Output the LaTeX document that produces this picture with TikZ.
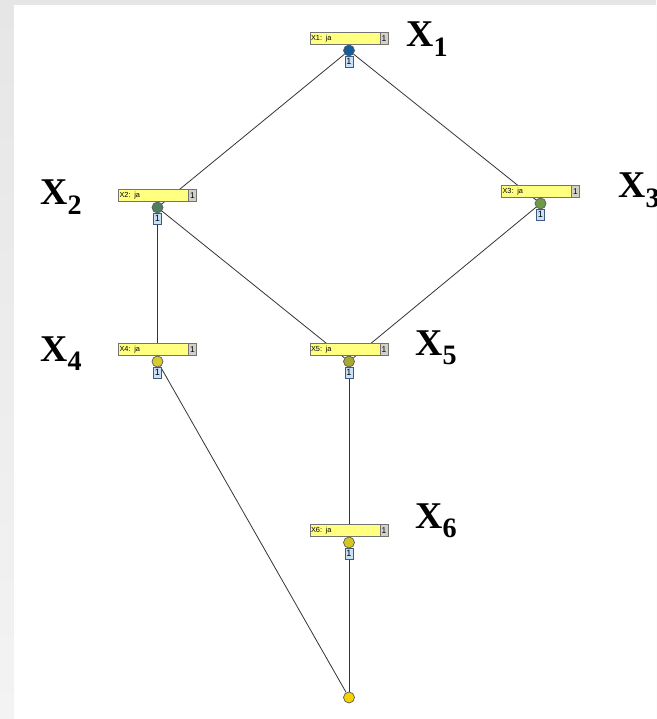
\documentclass[tikz,border=0pt]{standalone}
\usepackage{fontspec}
\setsansfont{Liberation Sans}
\newfontfamily\labelfont{Liberation Serif}
\usetikzlibrary{backgrounds}

\definecolor{barfill}{HTML}{FFFF80}
\definecolor{countfill}{HTML}{D4D0C8}
\definecolor{tallyfill}{HTML}{C8E0F8}
\definecolor{tallyline}{HTML}{3A5A80}
\definecolor{paneltop}{HTML}{E6E6E6}
\definecolor{panelbot}{HTML}{F3F3F3}

% subscript of the big variable names
\newcommand{\varsub}[1]{\raisebox{-5.6pt}{\fontsize{16}{15}\selectfont #1}}

\tikzset{
    bar/.style = {
        rectangle,
        draw=black!55,
        fill=barfill,
        minimum width=1.56cm,
        minimum height=0.25cm,
        inner sep=0.6pt,
        text width=1.52cm,
        align=left,
        font=\fontsize{4.2}{4}\sffamily,
    },
    count/.style = {
        rectangle,
        draw=black!55,
        fill=countfill,
        anchor=east,
        minimum width=0.16cm,
        minimum height=0.25cm,
        inner sep=0pt,
        font=\fontsize{4.8}{4}\sffamily,
    },
    state/.style = {
        circle,
        draw=black!65,
        minimum size=0.22cm,
        inner sep=0pt,
    },
    tally/.style = {
        rectangle,
        draw=tallyline,
        fill=tallyfill,
        minimum width=0.16cm,
        minimum height=0.22cm,
        inner sep=0pt,
        font=\fontsize{5.2}{5}\sffamily,
    },
    varlabel/.style = {
        anchor=base west,
        inner sep=0pt,
        font=\labelfont\bfseries\fontsize{21.5}{20}\selectfont,
    },
    link/.style = {draw=black!80, line width=0.45pt}
}

\begin{document}
\begin{tikzpicture}[x=0.02cm, y=-0.02cm]

  % Frame: grey panel with the white drawing area on it
  \useasboundingbox (0,0) rectangle (656,719);

  % Variables: bar, count box, state circle and tally box
  \node[bar]             (s1) at (349,38.5) {X1: ja};
  \node[count]           (k1) at (s1.east)  {1};
  \node[state, fill={rgb,255:red,22;green,92;blue,156}] (c1) at (349,50.5) {};
  \node[tally]           (t1) at (349,61.5) {1};

  \node[bar]             (s2) at (157.5,195.5) {X2: ja};
  \node[count]           (k2) at (s2.east)     {1};
  \node[state, fill={rgb,255:red,78;green,128;blue,96}] (c2) at (157.5,207.5) {};
  \node[tally]           (t2) at (157.5,218.5) {1};

  \node[bar]             (s3) at (540.5,191.5) {X3: ja};
  \node[count]           (k3) at (s3.east)     {1};
  \node[state, fill={rgb,255:red,110;green,154;blue,72}] (c3) at (540.5,203.5) {};
  \node[tally]           (t3) at (540.5,214.5) {1};

  \node[bar]             (s4) at (157.5,349.5) {X4: ja};
  \node[count]           (k4) at (s4.east)     {1};
  \node[state, fill={rgb,255:red,216;green,203;blue,42}] (c4) at (157.5,361.5) {};
  \node[tally]           (t4) at (157.5,372.5) {1};

  \node[bar]             (s5) at (349,349.5) {X5: ja};
  \node[count]           (k5) at (s5.east)  {1};
  \node[state, fill={rgb,255:red,168;green,168;blue,48}] (c5) at (349,361.5) {};
  \node[tally]           (t5) at (349,372.5) {1};

  \node[bar]             (s6) at (349,530.5) {X6: ja};
  \node[count]           (k6) at (s6.east)  {1};
  \node[state, fill={rgb,255:red,212;green,200;blue,32}] (c6) at (349,542.5) {};
  \node[tally]           (t6) at (349,553.5) {1};

  % Sink at the bottom
  \node[state, fill={rgb,255:red,248;green,210;blue,0}] (c7) at (349,697.5) {};

  % Variable names
  \node[varlabel] (l1) at (406,47)  {X\varsub{1}};
  \node[varlabel] (l2) at (40,205)  {X\varsub{2}};
  \node[varlabel] (l3) at (618,198) {X\varsub{3}};
  \node[varlabel] (l4) at (40,361)  {X\varsub{4}};
  \node[varlabel] (l5) at (415,355) {X\varsub{5}};
  \node[varlabel] (l6) at (415,528) {X\varsub{6}};

  \begin{pgfonlayer}{background}
    % Panel
    \shade[top color=paneltop, bottom color=panelbot] (0,0) rectangle (656,719);
    \fill[white] (14,5) rectangle (656,719);

    % Links, kept under the bars
    \draw[link] (c1) -- (c2);
    \draw[link] (c1) -- (c3);
    \draw[link] (c2) -- (c4);
    \draw[link] (c2) -- (c5);
    \draw[link] (c3) -- (c5);
    \draw[link] (c5) -- (c6);
    \draw[link] (c6) -- (c7);
    \draw[link] (c4) -- (c7);
  \end{pgfonlayer}

\end{tikzpicture}
\end{document}
